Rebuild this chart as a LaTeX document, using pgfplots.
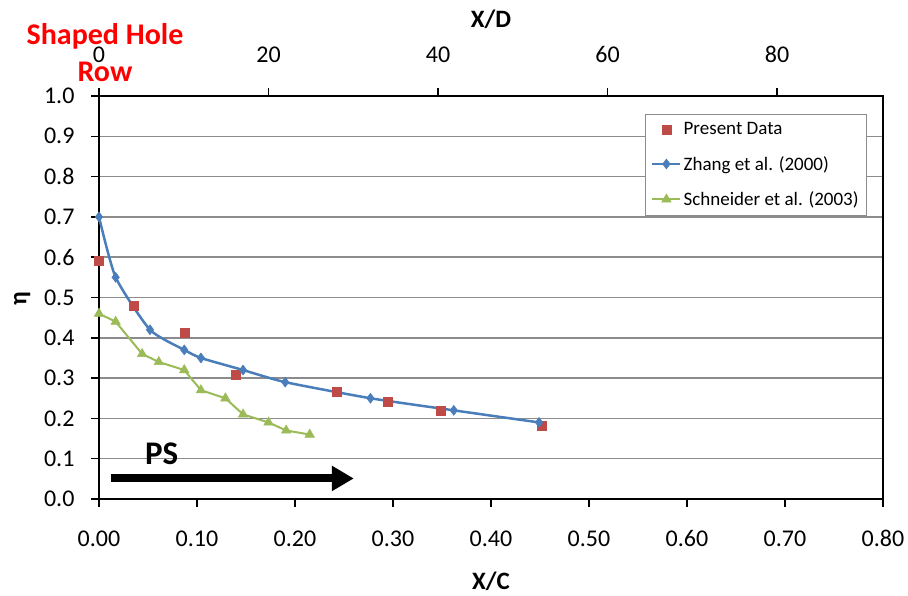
\documentclass[border=0pt]{standalone}
\usepackage{fontspec}
\setmainfont{Carlito}
\usepackage{pgfplots}
\pgfplotsset{compat=1.18}
\usetikzlibrary{arrows.meta}
\definecolor{exblue}{HTML}{4A7EBB}
\definecolor{exred}{HTML}{BE4B48}
\definecolor{exgreen}{HTML}{9BBB59}
\definecolor{gridgray}{HTML}{8C8C8C}
\begin{document}
\begin{tikzpicture}[x=1pt,y=1pt]
\path (-99,-96) rectangle (809,499);
\begin{axis}[
  at={(0,0)}, anchor=south west,
  scale only axis, width=784pt, height=403pt,
  xmin=0, xmax=0.8, ymin=0, ymax=1.0,
  clip=false,
  xtick={0,0.1,0.2,0.3,0.4,0.5,0.6,0.7,0.8},
  ytick={0,0.1,0.2,0.3,0.4,0.5,0.6,0.7,0.8,0.9,1.0},
  xticklabel style={/pgf/number format/.cd, fixed, fixed zerofill, precision=2, /tikz/yshift=-20pt},
  yticklabel style={/pgf/number format/.cd, fixed, fixed zerofill, precision=1, /tikz/xshift=-13pt},
  /pgf/number format/assume math mode=true,
  ticklabel style={font=\fontsize{24}{28}\selectfont},
  axis line style={line width=2.5pt, black},
  tick align=outside, major tick length=8pt, tick style={line width=1.5pt, black},
  xtick pos=left, ytick pos=left,
  ymajorgrids, grid style={gridgray, line width=1.5pt},
  xlabel={X/C}, ylabel={η},
  xlabel style={font=\bfseries\fontsize{25}{30}\selectfont, at={(axis description cs:0.5,-0.205)}, anchor=center},
  ylabel style={font=\bfseries\fontsize{25}{30}\selectfont, at={(axis description cs:-0.098,0.496)}, anchor=center},
  legend style={at={(axis description cs:0.696,0.955)}, anchor=north west, draw=gridgray, line width=1pt,
     font=\fontsize{19}{23}\selectfont, row sep=16pt, inner sep=6pt},
  legend cell align=left,
  legend image code/.code={\draw[mark repeat=2,mark phase=2] plot coordinates {(0pt,0pt)(14pt,0pt)(28pt,0pt)};},
]
\addplot[only marks, mark=square*, mark size=4.5pt, color=exred, mark options={line width=0.5pt}]
 coordinates {(0,0.59) (0.035,0.48) (0.088,0.413) (0.140,0.308) (0.243,0.267) (0.295,0.242) (0.349,0.219) (0.452,0.182)};
\addlegendentry{Present Data}
\addplot[color=exblue, line width=2.5pt, smooth, tension=0.35, mark=diamond*, mark size=5pt, mark options={line width=0.5pt, fill=exblue}]
 coordinates {(0,0.70) (0.017,0.55) (0.052,0.42) (0.087,0.37) (0.104,0.35) (0.147,0.32) (0.190,0.29) (0.277,0.25) (0.362,0.22) (0.449,0.19)};
\addlegendentry{Zhang et al. (2000)}
\addplot[color=exgreen, line width=2pt, mark=triangle*, mark size=5.5pt, mark options={line width=0.5pt, fill=exgreen}]
 coordinates {(0,0.46) (0.017,0.44) (0.044,0.36) (0.061,0.34) (0.087,0.32) (0.104,0.27) (0.129,0.25) (0.147,0.21) (0.173,0.19) (0.191,0.17) (0.215,0.16)};
\addlegendentry{Schneider et al. (2003)}
\node[font=\bfseries\fontsize{33}{36}\selectfont] at (axis cs:0.064,0.112) {PS};
\draw[line width=8pt, -{Triangle[length=22pt,width=24pt]}] (axis cs:0.012,0.051) -- (axis cs:0.26,0.051);
\end{axis}
\begin{axis}[
  at={(0,0)}, anchor=south west,
  scale only axis, width=784pt, height=403pt,
  xmin=0, xmax=92.5, ymin=0, ymax=1,
  axis x line*=top, hide y axis,
  x axis line style={line width=2.5pt, black, -},
  xtick={0,20,40,60,80},
  /pgf/number format/assume math mode=true,
  ticklabel style={font=\fontsize{24}{28}\selectfont},
  xticklabel style={yshift=22pt},
  tick align=outside, major tick length=8pt, tick style={line width=1.5pt, black},
  xlabel={X/D},
  xlabel style={font=\bfseries\fontsize{25}{30}\selectfont, at={(axis description cs:0.5,1.19)}, anchor=center},
]
\end{axis}
\node[font=\bfseries\fontsize{30}{37}\selectfont, text=red, align=center] at (6,446.5) {Shaped Hole\\Row};
\end{tikzpicture}
\end{document}
